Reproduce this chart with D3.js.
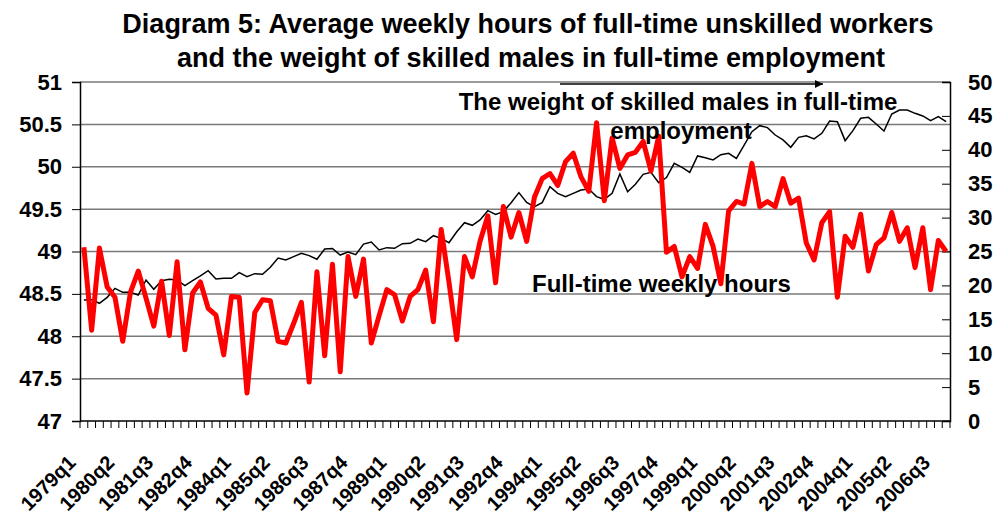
<html>
<head>
<script src="https://d3js.org/d3.v7.min.js"></script>
<style>
  body { margin: 0; background: #fff; }
  text { font-family: "Liberation Sans", Arial, sans-serif; }
</style>
</head>
<body>
<svg id="chart" width="999" height="518"></svg>
<script>
// quarters 1979q1 .. 2006q4
var quarters = [];
for (var yr = 1979; yr <= 2006; yr++)
  for (var q = 1; q <= 4; q++) quarters.push(yr + "q" + q);

// full-time weekly hours (left axis)
var hours = [
  49.05, 48.07, 49.04, 48.58, 48.46, 47.94, 48.52, 48.77, 48.45, 48.12,
  48.65, 48.01, 48.88, 47.84, 48.51, 48.64, 48.33, 48.25, 47.78, 48.47,
  48.46, 47.33, 48.28, 48.43, 48.42, 47.94, 47.92, 48.15, 48.40, 47.46,
  48.76, 47.77, 48.85, 47.58, 48.94, 48.47, 48.91, 47.92, 48.24, 48.55,
  48.49, 48.18, 48.47, 48.55, 48.78, 48.17, 49.26, 48.64, 47.96, 48.94,
  48.70, 49.12, 49.42, 48.63, 49.53, 49.17, 49.46, 49.12, 49.64, 49.86,
  49.92, 49.78, 50.06, 50.16, 49.88, 49.71, 50.52, 49.60, 50.34, 49.98,
  50.14, 50.17, 50.30, 49.95, 50.36, 48.99, 49.06, 48.70, 48.94, 48.80,
  49.32, 49.06, 48.62, 49.48, 49.59, 49.56, 50.04, 49.53, 49.59, 49.53,
  49.86, 49.57, 49.63, 49.10, 48.90, 49.34, 49.47, 48.46, 49.18, 49.05,
  49.44, 48.77, 49.08, 49.16, 49.46, 49.12, 49.28, 48.81, 49.28, 48.55,
  49.13, 49.00
];

// weight of skilled males in full-time employment (right axis)
var weight = [
  17.85, 17.9, 17.36, 18.24, 19.57, 18.98, 18.98, 18.58, 20.8, 19.42,
  20.7, 20.9, 20.8, 19.96, 20.7, 21.39, 22.17, 20.94, 21.04, 21.04,
  21.88, 21.29, 21.73, 21.63, 22.67, 24.04, 23.75, 24.24, 24.73, 24.39,
  23.85, 25.37, 25.45, 24.48, 24.93, 24.53, 26.1, 26.4, 25.22, 25.57,
  25.47, 26.15, 26.2, 26.84, 26.45, 27.33, 26.94, 26.3, 27.92, 29.25,
  28.86, 29.65, 31.02, 30.48, 30.87, 32.2, 33.68, 32.25, 31.61, 32.2,
  34.56, 33.58, 33.09, 33.58, 34.07, 34.22, 33.09, 32.7, 33.58, 36.43,
  33.82, 34.91, 36.38, 36.68, 35.15, 35.9, 38.0, 37.42, 36.68, 39.09,
  38.84, 38.5, 39.28, 39.48, 38.74, 40.7, 42.67, 43.56, 43.27, 42.18,
  41.45, 40.37, 41.84, 42.08, 41.6, 42.43, 44.25, 44.15, 41.35, 42.82,
  44.65, 44.79, 43.8, 42.77, 45.28, 45.87, 45.87, 45.38, 44.99, 44.29,
  44.89, 44.15
];

var leftTicks = [47, 47.5, 48, 48.5, 49, 49.5, 50, 50.5, 51];
var rightTicks = [0, 5, 10, 15, 20, 25, 30, 35, 40, 45, 50];

var svg = d3.select("#chart");
var m = {left: 80, right: 950, top: 82, bottom: 421};

var x = d3.scaleBand().domain(quarters).range([m.left, m.right]);
var yL = d3.scaleLinear().domain([47, 51]).range([m.bottom, m.top]);
var yR = d3.scaleLinear().domain([0, 50]).range([m.bottom, m.top]);
var cx = function(i) { return x(quarters[i]) + x.bandwidth() / 2; };

// gridlines
svg.append("g").selectAll("line")
  .data(leftTicks.filter(function(d) { return d > 47; }))
  .enter().append("line")
  .attr("x1", m.left).attr("x2", m.right)
  .attr("y1", function(d) { return yL(d); })
  .attr("y2", function(d) { return yL(d); })
  .attr("stroke", "#7a7a7a").attr("stroke-width", 1.5);

// left axis
var gl = svg.append("g").attr("transform", "translate(" + m.left + ",0)")
  .call(d3.axisLeft(yL).tickValues(leftTicks).tickSize(8).tickPadding(10)
    .tickFormat(function(d) { return String(d); }));
gl.selectAll("text").attr("font-size", 22).attr("font-weight", "bold")
  .attr("fill", "#000").style("font-family", "Liberation Sans, Arial");
gl.select(".domain").attr("stroke-width", 1.5);

// right axis
var gr = svg.append("g").attr("transform", "translate(" + m.right + ",0)")
  .call(d3.axisRight(yR).tickValues(rightTicks).tickSize(-8).tickPadding(18));
gr.selectAll("text").attr("font-size", 22).attr("font-weight", "bold")
  .attr("fill", "#000").style("font-family", "Liberation Sans, Arial");
gr.select(".domain").attr("stroke-width", 1.5);

// bottom axis: ticks at category boundaries
var gb = svg.append("g");
gb.append("line").attr("x1", m.left).attr("x2", m.right)
  .attr("y1", m.bottom).attr("y2", m.bottom)
  .attr("stroke", "#000").attr("stroke-width", 1.5);
gb.selectAll(".tk").data(d3.range(quarters.length + 1)).enter().append("line")
  .attr("x1", function(i) { return m.left + i * x.step(); })
  .attr("x2", function(i) { return m.left + i * x.step(); })
  .attr("y1", m.bottom).attr("y2", m.bottom + 7)
  .attr("stroke", "#000").attr("stroke-width", 1);
gb.selectAll(".lbl")
  .data(quarters.filter(function(d, i) { return i % 5 === 0; }))
  .enter().append("text")
  .attr("transform", function(d) {
    return "translate(" + (x(d) + x.bandwidth() / 2 - 7) + "," + (m.bottom + 43) + ") rotate(-45)";
  })
  .attr("text-anchor", "end")
  .attr("font-size", 20)
  .attr("font-weight", "bold")
  .text(function(d) { return d; });

// lines
svg.append("path").datum(weight)
  .attr("fill", "none").attr("stroke", "#000").attr("stroke-width", 1.5)
  .attr("d", d3.line().x(function(d, i) { return cx(i); }).y(function(d) { return yR(d); }));

svg.append("path").datum(hours)
  .attr("fill", "none").attr("stroke", "#ff0000").attr("stroke-width", 5)
  .attr("stroke-linejoin", "round")
  .attr("d", d3.line().x(function(d, i) { return cx(i); }).y(function(d) { return yL(d); }));

// title
var title = svg.append("text").attr("text-anchor", "middle")
  .attr("font-size", 27).attr("font-weight", "bold");
title.append("tspan").attr("x", 528).attr("y", 33)
  .text("Diagram 5: Average weekly hours of full-time unskilled workers");
title.append("tspan").attr("x", 531).attr("y", 67)
  .text("and the weight of skilled males in full-time employment");

// annotations
svg.append("defs").append("marker")
  .attr("id", "arr").attr("viewBox", "0 0 10 10").attr("refX", 10).attr("refY", 5)
  .attr("markerWidth", 10).attr("markerHeight", 8).attr("markerUnits", "userSpaceOnUse")
  .attr("orient", "auto")
  .append("path").attr("d", "M0,0L10,5L0,10Z").attr("fill", "#000");
svg.append("line").attr("x1", 560).attr("x2", 823).attr("y1", 84).attr("y2", 84)
  .attr("stroke", "#000").attr("stroke-width", 1.5).attr("marker-end", "url(#arr)");

var ann = svg.append("text").attr("text-anchor", "middle")
  .attr("font-size", 24).attr("font-weight", "bold");
ann.append("tspan").attr("x", 678).attr("y", 110).text("The weight of skilled males in full-time");
ann.append("tspan").attr("x", 681).attr("y", 139).text("employment");

svg.append("text").attr("x", 532).attr("y", 292)
  .attr("font-size", 24).attr("font-weight", "bold")
  .text("Full-time weekly hours");
</script>
</body>
</html>
